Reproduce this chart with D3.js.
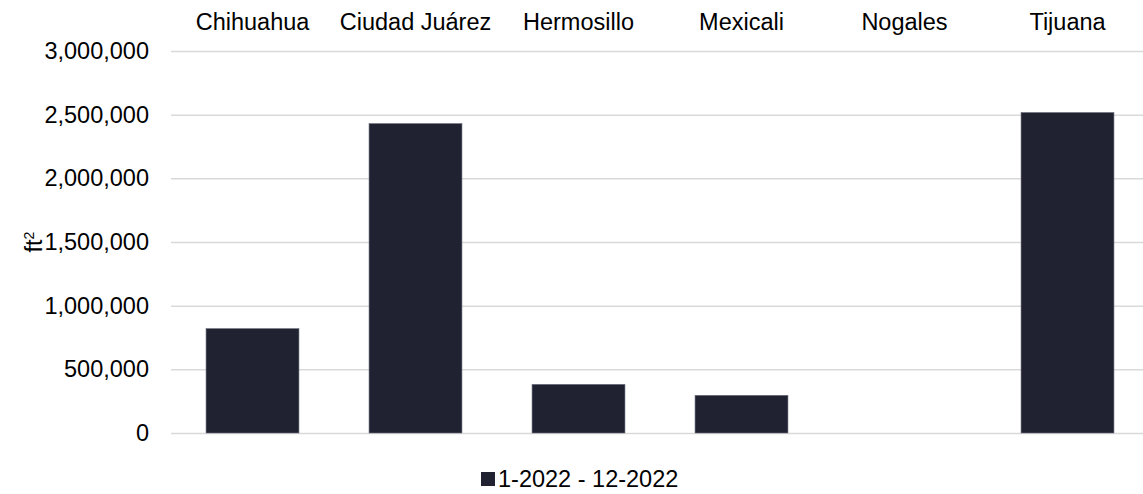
<!DOCTYPE html>
<html>
<head>
<meta charset="utf-8">
<script src="https://cdn.jsdelivr.net/npm/d3@7"></script>
<style>
  html, body { margin: 0; padding: 0; background: #ffffff; }
  svg { display: block; font-family: "Liberation Sans", Arial, sans-serif; }
</style>
</head>
<body>
<svg id="chart" width="1143" height="494"></svg>
<script>
// Absorption by market, ft²
const categories = ["Chihuahua", "Ciudad Juárez", "Hermosillo", "Mexicali", "Nogales", "Tijuana"];
const seriesName = "1-2022 - 12-2022";
const seriesValues = [820000, 2430000, 382000, 296000, 0, 2517000];
const yTicks = [0, 500000, 1000000, 1500000, 2000000, 2500000, 3000000];

const svg = d3.select("#chart");
const W = 1143, H = 494;
const plot = { left: 171, right: 1149, top: 51, bottom: 433 };
const fontSize = "23.5px";

const x = d3.scaleBand()
  .domain(categories)
  .range([plot.left, plot.right])
  .paddingInner(0.43)
  .paddingOuter(0.215);

const y = d3.scaleLinear()
  .domain([0, 3000000])
  .range([plot.bottom, plot.top]);

const fmt = d3.format(",");

// Horizontal gridlines with value labels
const yAxis = d3.axisLeft(y)
  .tickValues(yTicks)
  .tickFormat(fmt)
  .tickSize(-(plot.right - plot.left))
  .tickPadding(22);

const gy = svg.append("g")
  .attr("transform", `translate(${plot.left},0)`)
  .call(yAxis);
gy.select(".domain").remove();
gy.selectAll(".tick line")
  .attr("stroke", "#d9d9d9")
  .attr("stroke-width", 1.5);
gy.selectAll(".tick text")
  .attr("fill", "#000")
  .style("font-size", fontSize);

// Category labels along the top
const xAxis = d3.axisTop(x).tickSize(0).tickPadding(0);
const gx = svg.append("g")
  .attr("transform", `translate(0,30)`)
  .call(xAxis);
gx.select(".domain").remove();
gx.selectAll(".tick text")
  .attr("fill", "#000")
  .attr("dy", 0)
  .style("font-size", fontSize);

// Bars
svg.append("g")
  .selectAll("rect")
  .data(categories.map((c, i) => ({ c, v: seriesValues[i] })))
  .join("rect")
  .attr("x", d => x(d.c))
  .attr("width", x.bandwidth())
  .attr("y", d => y(d.v))
  .attr("height", d => y(0) - y(d.v))
  .attr("fill", "#202231")
  .attr("stroke", d => d.v > 0 ? "#6b6e7c" : "none")
  .attr("stroke-width", 0.6);

// Y axis title: ft²
const yt = svg.append("text")
  .attr("transform", `translate(42,${(plot.top + plot.bottom) / 2}) rotate(-90)`)
  .attr("text-anchor", "middle")
  .attr("fill", "#000")
  .style("font-size", fontSize);
yt.append("tspan").text("ft");
yt.append("tspan").attr("dy", -8).style("font-size", "14px").text("2");

// Legend, centred under the plot
const legend = svg.append("g");
legend.append("rect")
  .attr("width", 14).attr("height", 14)
  .attr("fill", "#202231");
const lt = legend.append("text")
  .attr("x", 17).attr("y", 15)
  .attr("fill", "#000")
  .style("font-size", fontSize)
  .text(seriesName);
const lw = 17 + lt.node().getComputedTextLength();
legend.attr("transform", `translate(${Math.round(580 - lw / 2)},472)`);
</script>
</body>
</html>
